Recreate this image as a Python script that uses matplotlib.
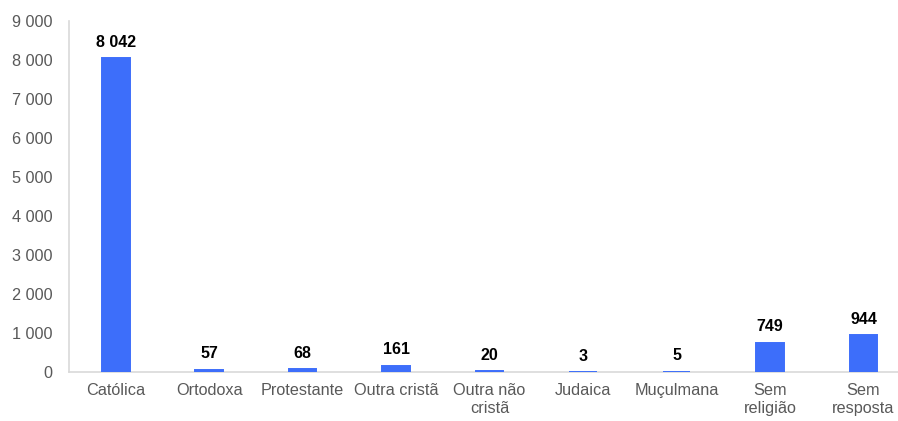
import matplotlib.pyplot as plt
from matplotlib.ticker import FuncFormatter

plt.rcParams["font.family"] = ["Liberation Sans", "DejaVu Sans"]

categories = ["Católica", "Ortodoxa", "Protestante", "Outra cristã", "Outra não\ncristã",
              "Judaica", "Muçulmana", "Sem\nreligião", "Sem\nresposta"]
values = [8042, 57, 68, 161, 20, 3, 5, 749, 944]
y_ticks = list(range(0, 10000, 1000))

BAR_COLOR = "#3D6EFA"
AXIS_COLOR = "#D9D9D9"
TEXT_COLOR = "#595959"


def fmt(v, pos=None):
    return f"{int(v):,}".replace(",", " ")


fig = plt.figure(figsize=(8.98, 4.21), dpi=100)
ax = fig.add_axes([69 / 898, 1 - 372 / 421, 829 / 898, 351 / 421])

x = list(range(len(categories)))
# thin edge in the bar colour keeps the tiny bars visible, like the original
ax.bar(x, values, width=0.295, color=BAR_COLOR, edgecolor=BAR_COLOR, linewidth=1.4, zorder=3)

for xi, v in zip(x, values):
    ax.annotate(fmt(v), (xi, v), xytext=(0, 6), textcoords="offset points",
                ha="center", va="bottom", fontsize=11.5, fontweight="bold", color="black")

ax.set_xlim(-0.5, 8.369)
ax.set_ylim(0, 9000)
ax.set_yticks(y_ticks)
ax.yaxis.set_major_formatter(FuncFormatter(fmt))
ax.set_xticks(x)
ax.set_xticklabels(categories, linespacing=1.2)

ax.tick_params(axis="both", length=0, labelsize=11.7, labelcolor=TEXT_COLOR)
ax.tick_params(axis="x", pad=8)
ax.tick_params(axis="y", pad=12)

for side in ("top", "right"):
    ax.spines[side].set_visible(False)
for side in ("left", "bottom"):
    ax.spines[side].set_color(AXIS_COLOR)
    ax.spines[side].set_linewidth(1.2)

fig.savefig("out.png", dpi=100)
